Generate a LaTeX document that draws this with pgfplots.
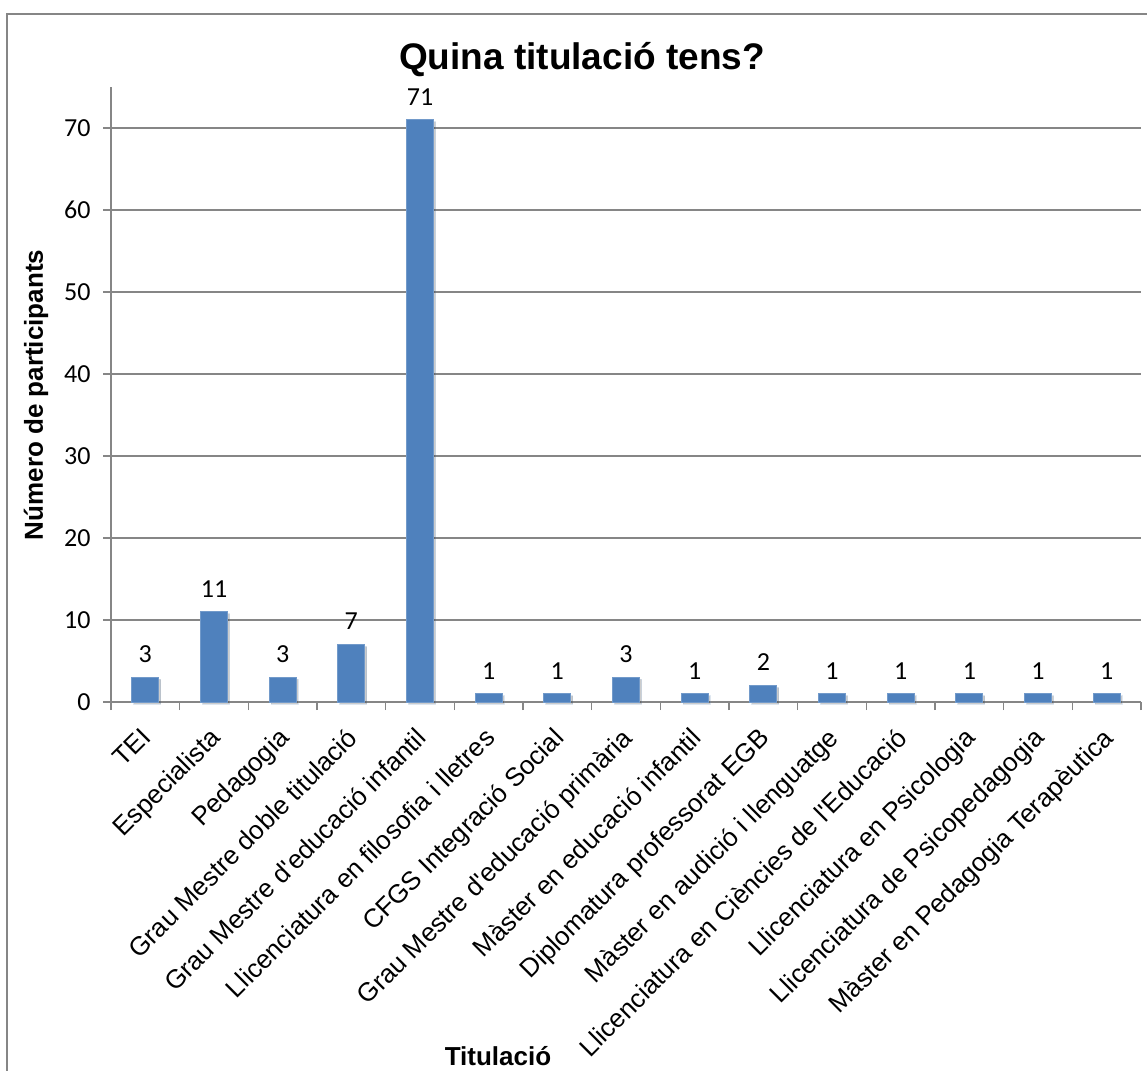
\documentclass[border=0pt]{standalone}
\usepackage{pgfplots}
\pgfplotsset{compat=1.18}
\usepackage{fontspec}
\setmainfont{Liberation Sans}
\newfontfamily\arial{Liberation Sans}
\newfontfamily\calibri{Carlito}
\usetikzlibrary{shadows}

\definecolor{barblue}{HTML}{4F81BD}
\definecolor{axgray}{HTML}{868686}

\begin{document}
\begin{tikzpicture}[x=1pt,y=1pt]
  \useasboundingbox (0,0) rectangle (1147,1070);
  % outer chart frame (right and bottom edges fall outside the picture)
  \draw[axgray, line width=1.5pt] (7,-10) -- (7,1056) -- (1160,1056);

  \begin{axis}[
      at={(111pt,368pt)}, anchor=south west,
      scale only axis,
      width=1030pt, height=615pt,
      xmin=0.5, xmax=15.5,
      ymin=0, ymax=75,
      ytick={0,10,...,70},
      xtick={1,...,15},
      minor xtick={0.5,1.5,...,15.5},
      axis x line*=bottom,
      axis y line*=left,
      axis line style={axgray, line width=1.2pt},
      ymajorgrids,
      major grid style={axgray, line width=1.2pt},
      tick align=outside,
      major tick length=8pt,
      minor tick length=8pt,
      tick style={axgray, line width=1.2pt},
      major x tick style={draw=none},
      /pgf/number format/assume math mode=true,
      yticklabel style={font=\calibri\fontsize{26}{30}\selectfont, xshift=-9pt},
      % shifts act along the rotated text axes
      xticklabel style={font=\arial\fontsize{26}{30}\selectfont, rotate=45, anchor=north east, xshift=-12pt, yshift=-4pt},
      xticklabels={TEI, Especialista, Pedagogia, Grau Mestre doble titulació,
        Grau Mestre d'educació infantil, Llicenciatura en filosofia i lletres,
        CFGS Integració Social, Grau Mestre d'educació primària,
        Màster en educació infantil, Diplomatura professorat EGB,
        Màster en audició i llenguatge, Llicenciatura en Ciències de l'Educació,
        Llicenciatura en Psicologia, Llicenciatura de Psicopedagogia,
        Màster en Pedagogia Terapèutica},
      ybar, bar width=27pt,
      nodes near coords,
      every node near coord/.append style={font=\calibri\fontsize{26}{30}\selectfont, black, yshift=11pt},
      clip=false,
    ]
    \addplot[fill=barblue, draw=barblue!80!white, line width=0.8pt,
      drop shadow={shadow xshift=2pt, shadow yshift=-2pt, fill=black, opacity=0.2}]
      coordinates {(1,3) (2,11) (3,3) (4,7) (5,71) (6,1) (7,1) (8,3)
                   (9,1) (10,2) (11,1) (12,1) (13,1) (14,1) (15,1)};
  \end{axis}

  \node[font=\arial\bfseries\fontsize{37}{42}\selectfont, anchor=base] at (582,1000) {Quina titulació tens?};
  \node[font=\arial\bfseries\fontsize{26}{30}\selectfont, rotate=90] at (36,675) {Número de participants};
  \node[font=\arial\bfseries\fontsize{26}{30}\selectfont, anchor=base] at (498,5) {Titulació};
\end{tikzpicture}
\end{document}
